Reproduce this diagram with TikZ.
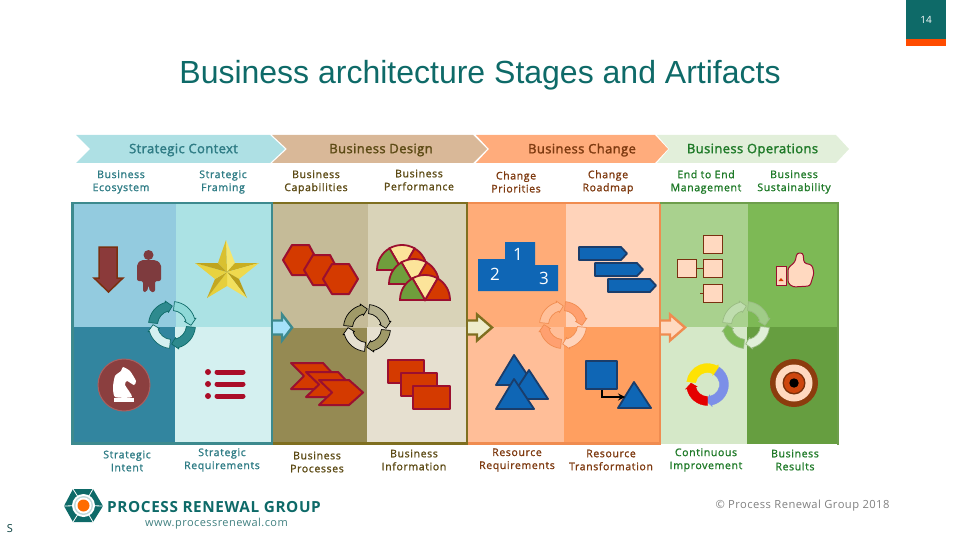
\documentclass[tikz,border=0pt]{standalone}
\usepackage{fontspec}
\setmainfont{Open Sans}
\newfontfamily\titlefont{Liberation Sans}
\newfontfamily\lblfont[LetterSpace=6,FakeBold=1.4]{Open Sans}
\newfontfamily\stagefont[LetterSpace=3,FakeBold=1.8]{Open Sans}
\newfontfamily\plainfont[LetterSpace=4]{Open Sans}
\usetikzlibrary{calc}

\definecolor{tealdark}{HTML}{0E6A68}
\definecolor{tealframe}{HTML}{3D8A8E}
\definecolor{oliveframe}{HTML}{7F6F20}
\definecolor{orangeframe}{HTML}{F08C50}
\definecolor{greenframe}{HTML}{6E9E4C}
\definecolor{tealtxt}{HTML}{2F7C85}
\definecolor{olivetxt}{HTML}{5C4A14}
\definecolor{browntxt}{HTML}{7E3A10}
\definecolor{greentxt}{HTML}{1F7A28}
\definecolor{hexred}{HTML}{D43A00}
\definecolor{hexline}{HTML}{9B0F2F}
\definecolor{blueshape}{HTML}{0F66B5}
\definecolor{blueline}{HTML}{1A3D6B}
\definecolor{peach}{HTML}{FFD9C0}
\definecolor{peachline}{HTML}{7A3010}

\tikzset{
	lbl/.style={font=\lblfont\fontsize{10.5}{13}\selectfont,align=center,inner sep=0pt,yshift=-.5pt},
	stagelbl/.style={font=\stagefont\fontsize{13}{15}\selectfont,inner sep=0pt,yshift=-1pt},
	redshape/.style={fill=hexred,draw=hexline,line width=2pt,line join=round},
	blueicon/.style={fill=blueshape,draw=blueline,line width=1.8pt,line join=round},
	orgbox/.style={fill=peach,draw=peachline,line width=.6pt,inner sep=0pt,minimum width=19pt,minimum height=18pt},
	listbar/.style={line width=5pt,line cap=round,draw=#1},
	ring/.style={line width=.7pt,line join=round}
}

% ring segment running clockwise: from, to, inner radius, outer radius, style
\newcommand{\ringseg}[5]{\draw[#5] (#1:#4) arc (#1:#2:#4) -- ({#2}:{#4+1.5}) -- ({#2-17}:{(#3+#4)/2}) -- ({#2}:{#3-1.5}) -- (#2:#3) arc (#2:#1:#3) -- cycle;}
% the four part cycle between the panels
\newcommand{\cycleicon}[7]{\begin{scope}[shift={(#1,#2)},yscale=-1]
	\ringseg{174}{106}{14.5}{23.5}{ring,fill=#3,draw=#7}
	\ringseg{84}{16}{14.5}{23.5}{ring,fill=#4,draw=#7}
	\ringseg{-6}{-74}{14.5}{23.5}{ring,fill=#5,draw=#7}
	\ringseg{-96}{-164}{14.5}{23.5}{ring,fill=#6,draw=#7}
\end{scope}}
% hollow arrow between two panels
\newcommand{\steparrow}[4]{\draw[fill=#3,draw=#4,line width=2.4pt,line join=miter] (#1,320.5) -- (#1+9,320.5) -- (#1+9,314.5) -- (#1+#2,327.5) -- (#1+9,340.5) -- (#1+9,334.5) -- (#1,334.5);}

\begin{document}
\begin{tikzpicture}[x=1pt,y=-1pt]
	\useasboundingbox (0,0) rectangle (960,540);
	%%%%% page furniture %%%%%
	\fill[tealdark] (906,0) rectangle (946,39);
	\fill[orange!60!red] (906,39) rectangle (946,46);
	\node[text=white,font=\fontsize{10}{12}\selectfont,inner sep=0pt] (pagenum) at (926,20) {14};
	\node[text=tealdark,font=\titlefont\fontsize{32}{36}\selectfont,inner sep=0pt] (title) at (480,75) {Business architecture Stages and Artifacts};

	%%%%% stage chevrons %%%%%
	\fill[fill={rgb,255:red,174;green,224;blue,228}] (76,135) -- (270,135) -- (285,149) -- (270,163) -- (76,163) -- (90,149) -- cycle;
	\fill[fill={rgb,255:red,217;green,184;blue,152}] (272,135) -- (473,135) -- (487,149) -- (473,163) -- (272,163) -- (287,149) -- cycle;
	\fill[fill={rgb,255:red,255;green,172;blue,124}] (476,135) -- (655,135) -- (668,149) -- (655,163) -- (476,163) -- (489,149) -- cycle;
	\fill[fill={rgb,255:red,226;green,239;blue,218}] (657,135) -- (836,135) -- (849,149) -- (836,163) -- (657,163) -- (669,149) -- cycle;
	\node[stagelbl,text=tealtxt] (ctx) at (183.5,149) {Strategic Context};
	\node[stagelbl,text=olivetxt] (dsn) at (381,149) {Business Design};
	\node[stagelbl,text=browntxt] (chg) at (582,149) {Business Change};
	\node[stagelbl,text=greentxt] (ops) at (752.5,149) {Business Operations};

	%%%%% labels above %%%%%
	\node[lbl,text=tealtxt] (ecosys) at (121,181.5) {Business\\Ecosystem};
	\node[lbl,text=tealtxt] (framing) at (223,181.5) {Strategic\\Framing};
	\node[lbl,text=olivetxt] (capab) at (316,181.5) {Business\\Capabilities};
	\node[lbl,text=olivetxt] (perf) at (419,179.5) {Business\\Performance};
	\node[lbl,text=browntxt] (prior) at (516,181.5) {Change\\Priorities};
	\node[lbl,text=browntxt] (roadmap) at (608,181.5) {Change\\Roadmap};
	\node[lbl,text=greentxt] (endend) at (706,181.5) {End to End\\Management};
	\node[lbl,text=greentxt] (sustain) at (794,181.5) {Business\\Sustainability};

	%%%%% panels %%%%%
	\fill[fill={rgb,255:red,147;green,203;blue,223}] (72,203) rectangle (176,327);
	\fill[fill={rgb,255:red,171;green,226;blue,228}] (176,203) rectangle (272,327);
	\fill[fill={rgb,255:red,50;green,133;blue,159}] (72,327) rectangle (175,444);
	\fill[fill={rgb,255:red,212;green,240;blue,240}] (175,327) rectangle (272,444);
	\fill[fill={rgb,255:red,197;green,187;blue,152}] (272,203) rectangle (368,328);
	\fill[fill={rgb,255:red,217;green,211;blue,184}] (368,203) rectangle (466,327);
	\fill[fill={rgb,255:red,149;green,138;blue,83}] (272,328) rectangle (367,444);
	\fill[fill={rgb,255:red,230;green,224;blue,208}] (367,327) rectangle (466,444);
	\fill[fill={rgb,255:red,255;green,172;blue,120}] (466,203) rectangle (566,327);
	\fill[fill={rgb,255:red,255;green,211;blue,186}] (566,203) rectangle (660,327);
	\fill[fill={rgb,255:red,255;green,190;blue,152}] (466,327) rectangle (564,444);
	\fill[fill={rgb,255:red,255;green,159;blue,96}] (564,327) rectangle (660,444);
	\fill[fill={rgb,255:red,169;green,209;blue,142}] (660,203) rectangle (748,327);
	\fill[fill={rgb,255:red,125;green,185;blue,85}] (748,203) rectangle (838,327);
	\fill[fill={rgb,255:red,213;green,232;blue,200}] (660,327) rectangle (747,444);
	\fill[fill={rgb,255:red,102;green,158;blue,64}] (747,327) rectangle (838,444);
	% frames
	\draw[orangeframe,line width=2.6pt] (467,203) rectangle (660,443.5);
	\draw[greenframe,line width=2.6pt] (660,203) -- (838,203) -- (838,445);
	\draw[oliveframe,line width=2.6pt] (272,203) rectangle (467,443.5);
	\draw[tealframe,line width=2.6pt] (72.3,203) rectangle (272,443.5);

	%%%%% strategic context icons %%%%%
	\draw[fill={rgb,255:red,139;green,58;blue,58},draw=peachline,line width=1.5pt] (99,247) -- (117,247) -- (117,278) -- (123,278) -- (108.5,292) -- (94,278) -- (99,278) -- cycle;
	\fill[fill={rgb,255:red,126;green,59;blue,62}] (148.5,255) circle (5);
	\fill[fill={rgb,255:red,126;green,59;blue,62},rounded corners=2pt] (137,264) -- (141,260) -- (156,260) -- (161,264) -- (161,281) -- (155,281) -- (155,292) -- (150,292) -- (148.5,285) -- (147,292) -- (143,292) -- (143,281) -- (137,281) -- cycle;
	% star, light and dark facets
	\def\starx{227} \def\stary{272}
	\foreach \dx/\dy/\ex/\ey/\shade in {
		226/240/235/263/F5E66E, 235/263/259/263/C9AE22, 259/263/239/279/EFD94E, 239/279/247/298/B89E1C, 247/298/227/286/F2E05C,
		227/286/207/298/E6CF3C, 207/298/215/279/C4A820, 215/279/195/263/E8D240, 195/263/218/263/BFA41E, 218/263/226/240/D9C030}{
		\definecolor{starshade}{HTML}{\shade}
		\fill[starshade] (\starx,\stary) -- (\dx,\dy) -- (\ex,\ey) -- cycle;}
	\draw[fill={rgb,255:red,139;green,63;blue,63},draw={rgb,255:red,168;green,96;blue,96},line width=1pt] (124,385) circle (26);
	\fill[white] plot[smooth cycle,tension=.35] coordinates {(123,367) (130,371) (136,381) (134,385) (127,381) (125,385) (132,397) (115,397) (113,387) (115,376) (121,371)};
	\fill[white] (114,398) rectangle (134,402);
	\fill[hexline!85!red] (208,372) circle (3);
	\fill[hexline!85!red] (208,384) circle (3);
	\fill[hexline!85!red] (208,396) circle (3);
	\draw[listbar=hexline!85!red] (217,372) -- (243,372);
	\draw[listbar=hexline!85!red] (217,384) -- (243,384);
	\draw[listbar=hexline!85!red] (217,396) -- (243,396);
	\definecolor{cyclea}{HTML}{2E8A8E} \definecolor{cycleb}{HTML}{8FD9D8} \definecolor{cyclec}{HTML}{D4F0F0}
	\cycleicon{172}{325}{cyclea}{cycleb}{cyclea}{cyclec}{tealdark}

	%%%%% business design icons %%%%%
	\draw[redshape] (283,260) -- (292,245) -- (309,245) -- (317,260) -- (309,275) -- (292,275) -- cycle;
	\draw[redshape] (304,270) -- (313,255) -- (330,255) -- (338,270) -- (330,285) -- (313,285) -- cycle;
	\draw[redshape] (323,279) -- (332,264) -- (349,264) -- (358,279) -- (349,294) -- (332,294) -- cycle;
	\foreach \px/\py in {402/270,414/284,425/300}{
		\begin{scope}[shift={(\px,\py)},yscale=-1]
			\draw[fill=hexred,draw=hexline,line width=1.8pt] (0,0) -- (60:25) arc (60:0:25) -- cycle;
			\draw[fill={rgb,255:red,252;green,228;blue,154},draw=hexline,line width=1.8pt] (0,0) -- (120:25) arc (120:60:25) -- cycle;
			\draw[fill={rgb,255:red,111;green,158;blue,60},draw=hexline,line width=1.8pt] (0,0) -- (180:25) arc (180:120:25) -- cycle;
		\end{scope}}
	\draw[redshape] (291,363) -- (323,363) -- (335,376) -- (323,389) -- (291,389) -- (304,376) -- cycle;
	\draw[redshape] (306,372) -- (338,372) -- (350,384.5) -- (338,397) -- (306,397) -- (319,384.5) -- cycle;
	\draw[redshape] (319,380) -- (349,380) -- (363,392.5) -- (349,405) -- (319,405) -- (332,392.5) -- cycle;
	\draw[redshape] (388,360) rectangle (424,383);
	\draw[redshape] (401,373) rectangle (437,396);
	\draw[redshape] (413,386) rectangle (450,409);
	\definecolor{cycled}{HTML}{A09A68} \definecolor{cyclee}{HTML}{B4B08E} \definecolor{cyclef}{HTML}{E6E0D0}
	\cycleicon{367}{328}{cycled}{cyclee}{cycled}{cyclef}{black}

	%%%%% business change icons %%%%%
	\fill[blueshape] (478,259) -- (505,259) -- (505,242) -- (535,242) -- (535,265) -- (558,265) -- (558,291) -- (478,291) -- cycle;
	\node[text=white,font=\fontsize{17}{19}\selectfont,inner sep=0pt] (first) at (518,254) {1};
	\node[text=white,font=\fontsize{17}{19}\selectfont,inner sep=0pt] (second) at (495,274) {2};
	\node[text=white,font=\fontsize{17}{19}\selectfont,inner sep=0pt] (third) at (544,278) {3};
	\draw[blueicon] (579,247) -- (621,247) -- (627,253.5) -- (621,260) -- (579,260) -- cycle;
	\draw[blueicon] (595,263) -- (637,263) -- (643,269.5) -- (637,276) -- (595,276) -- cycle;
	\draw[blueicon] (608,279) -- (650,279) -- (656,285.5) -- (650,292) -- (608,292) -- cycle;
	\draw[blueicon] (496,385) -- (514,355) -- (534,385) -- cycle;
	\draw[blueicon] (510,399) -- (529,370) -- (548,399) -- cycle;
	\draw[blueicon] (496,409) -- (514,379) -- (534,409) -- cycle;
	\node[blueicon,inner sep=0pt,minimum width=31pt,minimum height=28pt] (srcsq) at (601.5,375) {};
	\draw[blueicon] (618,408) -- (634,382) -- (651,408) -- cycle;
	\coordinate (tritarget) at (625,397);
	\draw[line width=2pt,-stealth] (srcsq.south) |- (tritarget);
	\definecolor{cycleg}{HTML}{FFC09A} \definecolor{cycleh}{HTML}{FFA070} \definecolor{cyclei}{HTML}{FFD3BA}
	\cycleicon{563}{325}{cycleg}{cycleh}{cyclei}{cycleh}{orangeframe}

	%%%%% business operations icons %%%%%
	\node[orgbox] (orgroot) at (686.5,268.5) {};
	\node[orgbox] (orgtop) at (712.5,244) {};
	\node[orgbox] (orgmid) at (712.5,268.5) {};
	\node[orgbox] (orgbot) at (712.5,293.5) {};
	\coordinate (orgstub) at (700,293.5);
	\draw[peachline,line width=.6pt] (orgroot) -- (orgmid);
	\draw[peachline,line width=.6pt] (orgstub) -- (orgbot);
	\node[fill=peach,draw=hexline,line width=1pt,inner sep=0pt,minimum width=10pt,minimum height=19pt] (cuff) at (781,275.5) {};
	\fill[hexred] (781,278) -- (783.5,281) -- (778.5,281) -- cycle;
	\draw[fill=peach,draw=hexline,line width=1pt,rounded corners=2.5pt] (788,268) -- (795,262) -- (797,253) -- (803,253) -- (804,263) -- (812,265) -- (814,273) -- (810,286) -- (793,287) -- (788,283) -- cycle;
	\begin{scope}[shift={(707.5,384.5)},yscale=-1]
		\ringseg{172}{62}{12}{21}{line width=.3pt,fill=yellow!85!orange,draw=yellow!85!orange}
		\ringseg{56}{-78}{12}{21}{line width=.3pt,fill={rgb,255:red,124;green,143;blue,232},draw={rgb,255:red,124;green,143;blue,232}}
		\ringseg{-90}{-168}{12}{21}{line width=.3pt,fill=red!90!black,draw=red!90!black}
	\end{scope}
	\fill[fill={rgb,255:red,140;green,60;blue,14}] (794,383) circle (24);
	\fill[peach] (794,383) circle (18.5);
	\fill[fill={rgb,255:red,120;green,48;blue,10}] (794,383) circle (11.5);
	\fill[fill={rgb,255:red,205;green,70;blue,14}] (794,383) circle (10);
	\fill[black] (794,383) circle (4.7);
	\definecolor{cyclej}{HTML}{BFDDAE} \definecolor{cyclek}{HTML}{A0CC88} \definecolor{cyclel}{HTML}{E0F0D8} \definecolor{cyclem}{HTML}{7DB955}
	\cycleicon{746}{325}{cyclej}{cyclek}{cyclel}{cyclem}{greenframe!70!white}

	%%%%% arrows between panels %%%%%
	\steparrow{273}{19}{cyan!35!white}{tealframe}
	\steparrow{468}{24}{olive!15!white}{oliveframe}
	\steparrow{661}{24}{peach}{orangeframe}

	%%%%% labels below %%%%%
	\node[lbl,text=tealtxt] (intent) at (127,460.5) {Strategic\\Intent};
	\node[lbl,text=tealtxt] (require) at (222,459.5) {Strategic\\Requirements};
	\node[lbl,text=olivetxt] (process) at (317,461.5) {Business\\Processes};
	\node[lbl,text=olivetxt] (inform) at (414,459.5) {Business\\Information};
	\node[lbl,text=browntxt] (resreq) at (517,459.5) {Resource\\Requirements};
	\node[lbl,text=browntxt] (restrans) at (611,459.5) {Resource\\Transformation};
	\node[lbl,text=greentxt] (contin) at (706,459.5) {Continuous\\Improvement};
	\node[lbl,text=greentxt] (results) at (795,459.5) {Business\\Results};

	%%%%% logo and footer %%%%%
	\fill[tealdark] (64,506) -- (73,489) -- (93,489) -- (103,506) -- (93,522) -- (73,522) -- cycle;
	\foreach \ex/\ey in {64/506,73/489,93/489,103/506,93/522,73/522}
		\draw[white,line width=.8pt] (83.5,505.5) -- (\ex,\ey);
	\fill[white] (83.5,505.5) circle (11.5);
	\fill[gray!35!teal!30!white] (83.5,505.5) circle (9.5);
	\fill[white] (83.5,505.5) circle (8);
	\fill[orange!85!red] (83.5,505.5) circle (6);
	\node[text=tealdark,font=\plainfont\bfseries\fontsize{15.3}{17}\selectfont,inner sep=0pt] (logotxt) at (214,507.5) {PROCESS RENEWAL GROUP};
	\node[text=teal!50!gray,font=\plainfont\fontsize{11}{13}\selectfont,inner sep=0pt] (weblink) at (216.5,524) {www.processrenewal.com};
	\node[text=gray,font=\plainfont\fontsize{11.2}{13}\selectfont,inner sep=0pt] (copyr) at (802.5,506) {© Process Renewal Group 2018};
	\node[text=tealdark!60!black,font=\fontsize{11}{13}\selectfont,inner sep=0pt] (secmark) at (10,529) {S};
\end{tikzpicture}
\end{document}
